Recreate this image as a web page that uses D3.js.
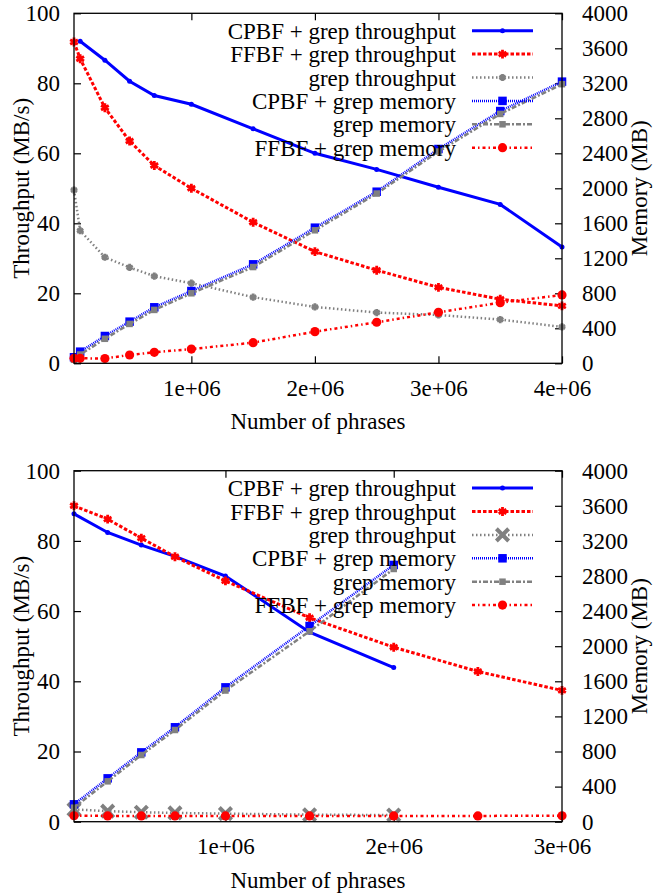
<!DOCTYPE html>
<html>
<head>
<meta charset="utf-8">
<script src="https://cdn.jsdelivr.net/npm/d3@7"></script>
<style>
  body { margin: 0; background: #fff; }
  svg { display: block; }
</style>
</head>
<body>
<svg id="chart" width="669" height="894" style="font-family:'Liberation Serif';font-size:23px"></svg>
<script>
// legend labels, same for both panels
const seriesNames = [
  "CPBF + grep throughput",
  "FFBF + grep throughput",
  "grep throughput",
  "CPBF + grep memory",
  "grep memory",
  "FFBF + grep memory"
];

// top panel (up to 4e6 phrases)
const topPhrases = [5e4, 1e5, 3e5, 5e5, 7e5, 1e6, 1.5e6, 2e6, 2.5e6, 3e6, 3.5e6, 4e6];
const topCpbfPhrases = [1e5, 3e5, 5e5, 7e5, 1e6, 1.5e6, 2e6, 2.5e6, 3e6, 3.5e6, 4e6];
const topCpbfThroughput = [92, 86.6, 80.6, 76.5, 74, 67, 60, 55.4, 50.3, 45.4, 33.2];
const topFfbfThroughput = [91.8, 87, 73, 63.5, 56.5, 50, 40.3, 31.9, 26.6, 21.7, 18.3, 16.4];
const topGrepThroughput = [49.5, 37.9, 30.3, 27.4, 24.9, 22.9, 18.9, 16.1, 14.5, 13.8, 12.5, 10.4];
const topCpbfMemory = [69, 133, 312, 476, 640, 826, 1131, 1550, 1961, 2449, 2883, 3219];
const topGrepMemory = [40, 100, 280, 450, 610, 800, 1100, 1520, 1940, 2420, 2850, 3190];
const topFfbfMemory = [57, 57, 55, 95, 126, 163, 236, 362, 469, 583, 693, 781];
const topXTicks = [1e6, 2e6, 3e6, 4e6];

// bottom panel (up to 3e6 phrases)
const botPhrases = [1e5, 3e5, 5e5, 7e5, 1e6, 1.5e6, 2e6, 2.5e6, 3e6];
const botShortPhrases = [1e5, 3e5, 5e5, 7e5, 1e6, 1.5e6, 2e6];
const botCpbfThroughput = [87.7, 82.4, 78.8, 75.6, 70, 54, 43.9];
const botFfbfThroughput = [90, 86.2, 80.8, 75.5, 68.6, 58.1, 49.7, 42.8, 37.4];
const botGrepThroughput = [3.5, 3.0, 2.7, 2.5, 2.3, 2.0, 1.9];
const botCpbfMemory = [198, 494, 790, 1076, 1531, 2230, 2926];
const botGrepMemory = [160, 460, 760, 1045, 1495, 2170, 2880];
const botFfbfMemory = [68, 66, 66, 66, 66, 66, 66, 66, 68];
const botXTicks = [1e6, 2e6, 3e6];

const throughputTicks = [0, 20, 40, 60, 80, 100];
const memoryTicks = [0, 400, 800, 1200, 1600, 2000, 2400, 2800, 3200, 3600, 4000];

// line styles in legend order
const styles = [
  { color: "#0000ff", width: 3, dash: null, axis: "y" },
  { color: "#ff0000", width: 3, dash: "3.5,2", axis: "y" },
  { color: "#808080", width: 2.5, dash: "1.5,2.5", axis: "y" },
  { color: "#0000ff", width: 2.5, dash: "1,1", axis: "y2" },
  { color: "#808080", width: 2.5, dash: "5,2,2,2", axis: "y2" },
  { color: "#ff0000", width: 2.5, dash: "3,3,1.5,3", axis: "y2" }
];

const FONT_STYLE = "font-family:'Liberation Serif';font-size:23px";
const svg = d3.select("#chart");
const left = 74, right = 562;

function label(g, x, y, anchor, str) {
  return g.append("text").attr("x", x).attr("y", y)
    .attr("text-anchor", anchor)
    .attr("style", FONT_STYLE).attr("fill", "#000")
    .text(str);
}

function marker(g, type, color, x, y) {
  if (type == "dot") {
    g.append("circle").attr("cx", x).attr("cy", y).attr("r", 2.5).attr("fill", color);
  } else if (type == "star" || type == "smallstar") {
    g.append("path")
      .attr("d", d3.symbol(d3.symbolAsterisk, type == "star" ? 55 : 36)())
      .attr("transform", `translate(${x},${y})`)
      .attr("fill", "none").attr("stroke", color).attr("stroke-width", 2.8);
  } else if (type == "cross") {
    g.append("path")
      .attr("d", d3.symbol(d3.symbolTimes, 100)())
      .attr("transform", `translate(${x},${y})`)
      .attr("fill", "none").attr("stroke", color).attr("stroke-width", 4);
  } else if (type == "square" || type == "smallsquare") {
    const s = type == "square" ? 8.5 : 6.5;
    g.append("rect").attr("x", x - s / 2).attr("y", y - s / 2)
      .attr("width", s).attr("height", s).attr("fill", color);
  } else if (type == "circle") {
    g.append("circle").attr("cx", x).attr("cy", y).attr("r", 4.6).attr("fill", color);
  }
}

function drawPanel(p) {
  const g = svg.append("g");
  const x = d3.scaleLinear().domain(p.xDomain).range([left, right]);
  const y = d3.scaleLinear().domain([0, 100]).range([p.bottom, p.top]);
  const y2 = d3.scaleLinear().domain([0, 4000]).range([p.bottom, p.top]);

  const fmt = (d) => (d / 1e6) + "e+06";

  g.append("g").attr("transform", `translate(0,${p.bottom})`)
    .call(d3.axisBottom(x).tickValues(p.xTicks).tickFormat(fmt).tickSize(-7).tickPadding(16));
  g.append("g").attr("transform", `translate(0,${p.top})`)
    .call(d3.axisTop(x).tickValues(p.xTicks).tickFormat("").tickSize(-7));
  g.append("g").attr("transform", `translate(${left},0)`)
    .call(d3.axisLeft(y).tickValues(throughputTicks).tickFormat(d3.format("d")).tickSize(-7).tickPadding(14));
  g.append("g").attr("transform", `translate(${right},0)`)
    .call(d3.axisRight(y2).tickValues(memoryTicks).tickFormat(d3.format("d")).tickSize(-7).tickPadding(20));

  g.selectAll(".domain").remove();
  g.selectAll("g").attr("font-family", null).attr("font-size", null);
  g.selectAll(".tick line").attr("stroke", "#000").attr("stroke-width", 1.2);
  g.selectAll(".tick text").attr("style", FONT_STYLE).attr("fill", "#000");

  // series
  p.series.forEach((s, i) => {
    const st = styles[i];
    const sc = st.axis == "y" ? y : y2;
    const pts = s.xs.map((v, j) => [x(v), sc(s.values[j])]);
    g.append("path")
      .attr("d", d3.line()(pts))
      .attr("fill", "none")
      .attr("stroke", st.color)
      .attr("stroke-width", st.width)
      .attr("stroke-dasharray", st.dash);
    const mg = g.append("g");
    pts.forEach((pt) => marker(mg, p.markers[i], st.color, pt[0], pt[1]));
  });

  // legend
  const lg = g.append("g");
  seriesNames.forEach((name, i) => {
    const st = styles[i];
    const ly = p.top + 17.4 + i * 23.4;
    label(lg, 456, ly + 8, "end", name);
    lg.append("line").attr("x1", 472).attr("x2", 533).attr("y1", ly).attr("y2", ly)
      .attr("stroke", st.color).attr("stroke-width", st.width).attr("stroke-dasharray", st.dash);
    marker(lg, p.markers[i], st.color, 502.5, ly);
  });

  // frame
  g.append("rect").attr("x", left).attr("y", p.top)
    .attr("width", right - left).attr("height", p.bottom - p.top)
    .attr("fill", "none").attr("stroke", "#000").attr("stroke-width", 1.3);

  // axis titles
  const mid = (p.top + p.bottom) / 2;
  label(g, 0, 0, "middle", "Throughput (MB/s)")
    .attr("transform", `translate(29,${mid}) rotate(-90)`);
  label(g, 0, 0, "middle", "Memory (MB)")
    .attr("transform", `translate(647,${mid}) rotate(-90)`);
  label(g, (left + right) / 2, p.bottom + 66, "middle", "Number of phrases");
}

drawPanel({
  top: 13.3, bottom: 363.3,
  xDomain: [5e4, 4e6], xTicks: topXTicks,
  series: [
    { xs: topCpbfPhrases, values: topCpbfThroughput },
    { xs: topPhrases, values: topFfbfThroughput },
    { xs: topPhrases, values: topGrepThroughput },
    { xs: topPhrases, values: topCpbfMemory },
    { xs: topPhrases, values: topGrepMemory },
    { xs: topPhrases, values: topFfbfMemory }
  ],
  markers: ["dot", "star", "smallstar", "square", "smallsquare", "circle"]
});

drawPanel({
  top: 470.7, bottom: 821.7,
  xDomain: [1e5, 3e6], xTicks: botXTicks,
  series: [
    { xs: botShortPhrases, values: botCpbfThroughput },
    { xs: botPhrases, values: botFfbfThroughput },
    { xs: botShortPhrases, values: botGrepThroughput },
    { xs: botShortPhrases, values: botCpbfMemory },
    { xs: botShortPhrases, values: botGrepMemory },
    { xs: botPhrases, values: botFfbfMemory }
  ],
  markers: ["dot", "star", "cross", "square", "smallsquare", "circle"]
});
</script>
</body>
</html>
